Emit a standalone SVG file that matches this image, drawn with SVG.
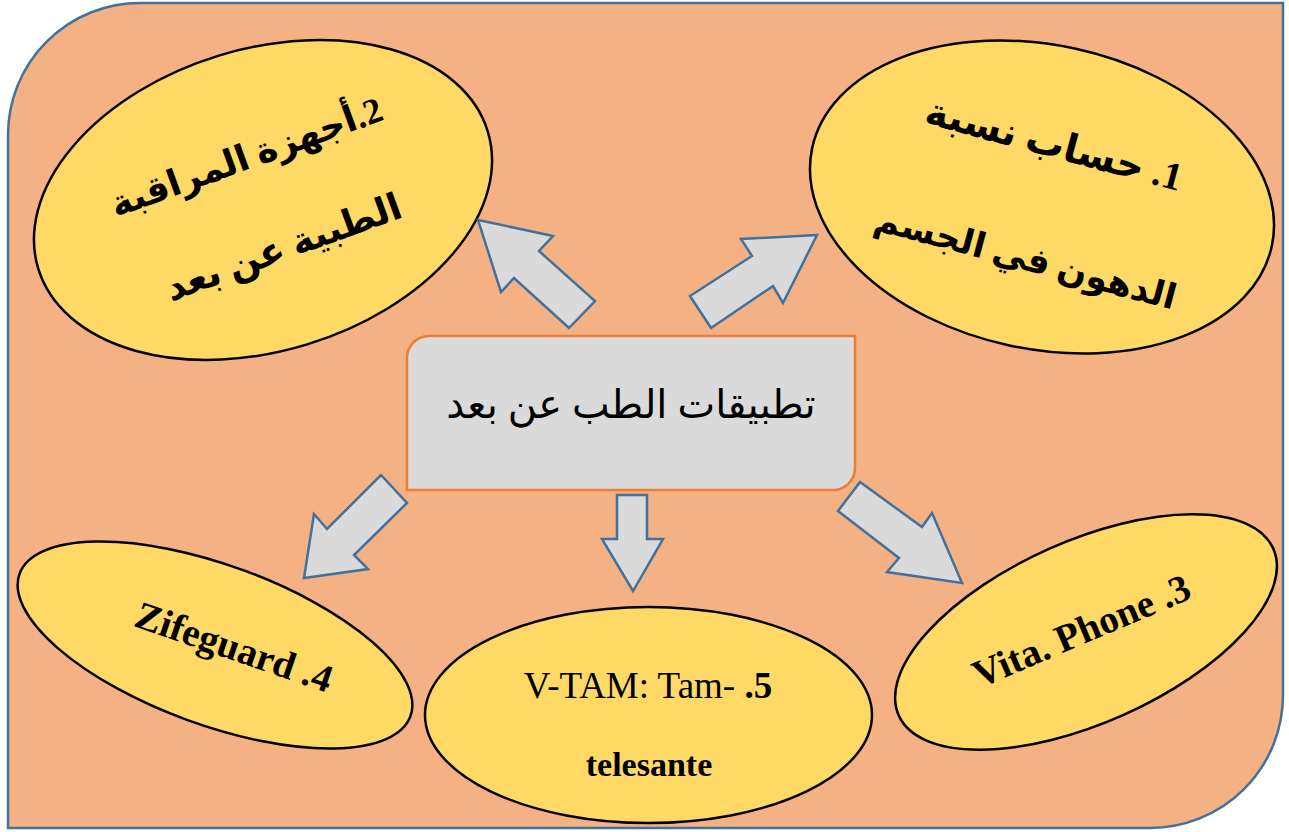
<svg xmlns="http://www.w3.org/2000/svg" width="1289" height="832" viewBox="0 0 1289 832">
<style>
.bg{fill:#f4b183;stroke:#41719c;stroke-width:2.5}
.ell{fill:#ffd966;stroke:#000;stroke-width:2.5}
.arr{fill:#dadada;stroke:#41719c;stroke-width:2.5;stroke-linejoin:miter}
.box{fill:#dadada;stroke:#ed7d31;stroke-width:2.5}
.ar{font-family:"Liberation Serif","DejaVu Serif","DejaVu Sans",serif;fill:#000;text-anchor:middle}
.en{font-family:"Liberation Serif","DejaVu Serif",serif;fill:#000;text-anchor:middle}
</style>
<path class="bg" d="M8,135 A132,132 0 0 1 140,3 L1283,3 L1283,695 A133,133 0 0 1 1150,828 L8,828 Z"/>

<g id="node-monitoring">
  <ellipse class="ell" cx="263" cy="200" rx="235" ry="151" transform="rotate(-17 263 200)"/>
  <g transform="rotate(-20 263 200)">
    <text class="ar" x="262" y="166" font-size="36" font-weight="bold" direction="rtl">2.أجهزة المراقبة</text>
    <text class="ar" x="266" y="264" font-size="37" font-weight="bold" direction="rtl">الطبية عن بعد</text>
  </g>
</g>

<g id="node-bodyfat">
  <ellipse class="ell" cx="1042" cy="197" rx="235" ry="152" transform="rotate(12 1042 197)"/>
  <g transform="rotate(15 1042 197)">
    <text class="ar" x="1040" y="156" font-size="39" font-weight="bold" direction="rtl">1. حساب نسبة</text>
    <text class="ar" x="1042" y="272" font-size="35" font-weight="bold" direction="rtl">الدهون في الجسم</text>
  </g>
</g>

<g id="node-zifeguard">
  <ellipse class="ell" cx="215" cy="645" rx="208" ry="80" transform="rotate(20 215 645)"/>
  <text class="en" x="234" y="660" font-size="39" font-weight="bold" transform="rotate(19 234 647)">Zifeguard .4</text>
</g>

<g id="node-vtam">
  <ellipse class="ell" cx="648.5" cy="715" rx="223.5" ry="108"/>
  <text class="en" x="648" y="698" font-size="37">V-TAM: Tam- <tspan font-weight="bold">.5</tspan></text>
  <text class="en" x="649" y="776" font-size="34" font-weight="bold">telesante</text>
</g>

<g id="node-vitaphone">
  <ellipse class="ell" cx="1086" cy="632" rx="205" ry="91" transform="rotate(-24 1086 632)"/>
  <text class="en" x="1081" y="644" font-size="39" font-weight="bold" transform="rotate(-23 1081 630)">Vita. Phone .3</text>
</g>

<g id="connectors">
  <polygon class="arr" points="478,220 553,236 539,251 595,301 569,328 514,278 501,292"/>
  <polygon class="arr" points="817,235 741,239 752,256 690,296 711,328 773,286 783,303"/>
  <polygon class="arr" points="381,475 407,503 354,555 368,569 304,578 314,514 327,529"/>
  <polygon class="arr" points="617,495 647,495 647,539 663,539 633,591 602,539 617,539"/>
  <polygon class="arr" points="860,482 922,527 932,513 962,583 887,572 899,558 838,511"/>
</g>

<g id="node-center">
  <path class="box" d="M407,358 A22,22 0 0 1 429,336 L855,336 L855,468 A22,22 0 0 1 833,490 L407,490 Z"/>
  <text class="ar" x="631" y="418" font-size="40" direction="rtl">تطبيقات الطب عن بعد</text>
</g>
</svg>
